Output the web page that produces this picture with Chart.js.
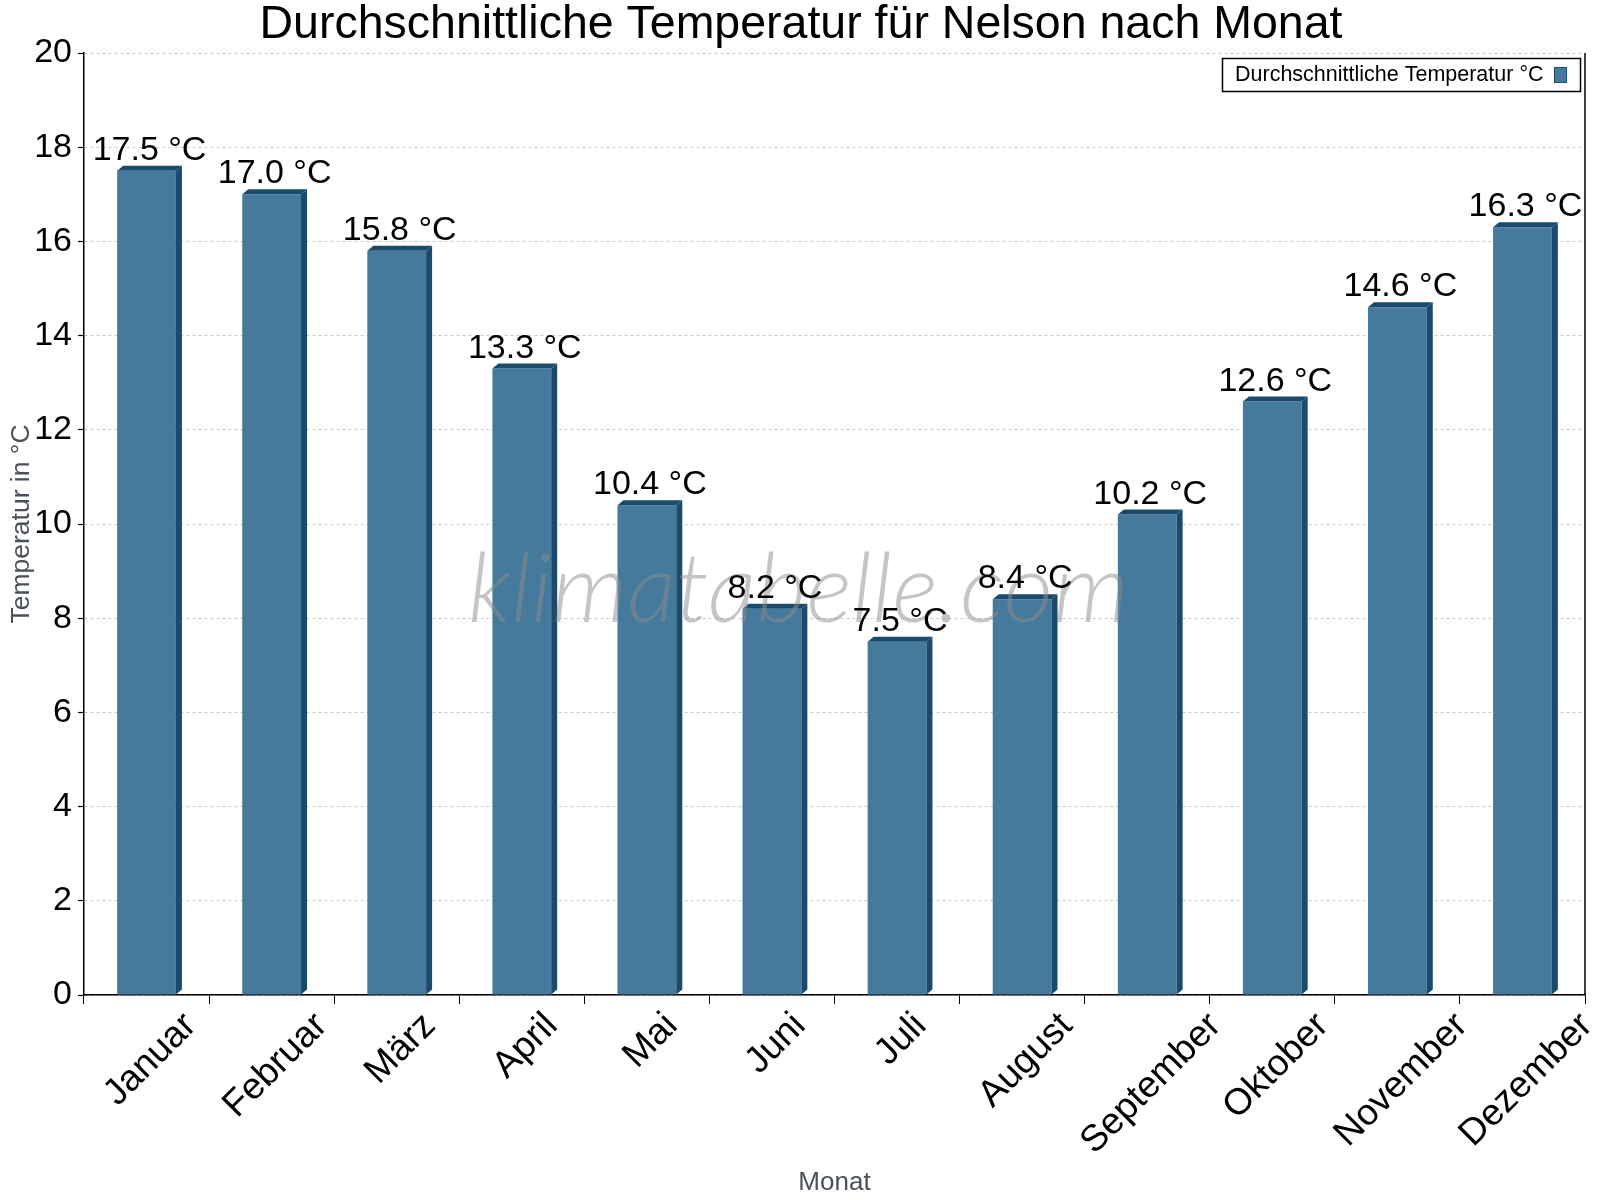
<!DOCTYPE html>
<html>
<head>
<meta charset="utf-8">
<script src="https://cdn.jsdelivr.net/npm/chart.js@4/dist/chart.umd.min.js"></script>
<style>
  html, body { margin: 0; padding: 0; background: #fff; }
  canvas { display: block; }
</style>
</head>
<body>
<canvas id="tempChart" width="1600" height="1200"></canvas>
<script>
const months = ['Januar', 'Februar', 'März', 'April', 'Mai', 'Juni', 'Juli', 'August', 'September', 'Oktober', 'November', 'Dezember'];
const avgTemps = [17.5, 17.0, 15.8, 13.3, 10.4, 8.2, 7.5, 8.4, 10.2, 12.6, 14.6, 16.3];
const yMin = 0;
const yMax = 20;
const yStep = 2;
const chartTitle = 'Durchschnittliche Temperatur für Nelson nach Monat';
const seriesLabel = 'Durchschnittliche Temperatur °C';
const yTitle = 'Temperatur in °C';
const xTitle = 'Monat';
const watermarkText = 'klimatabelle.com';

const FONT = "'Liberation Sans', Arial, sans-serif";
const barFront = '#467a9d';
const barDark = '#1a4b6d';
const depthX = 6;
const depthY = 5;

// draws the fake 3d bars, watermark, value labels, title, legend and x labels
const decorPlugin = {
  id: 'decor',
  afterDatasetsDraw(chart) {
    const ctx = chart.ctx;
    const meta = chart.getDatasetMeta(0);

    meta.data.forEach(bar => {
      const { x, y, width, base } = bar.getProps(['x', 'y', 'width', 'base'], true);
      const left = x - width / 2;
      const right = x + width / 2;
      ctx.save();
      ctx.fillStyle = barDark;
      // side
      ctx.beginPath();
      ctx.moveTo(right, y);
      ctx.lineTo(right + depthX, y - depthY);
      ctx.lineTo(right + depthX, base - depthY);
      ctx.lineTo(right, base);
      ctx.closePath();
      ctx.fill();
      // top
      ctx.beginPath();
      ctx.moveTo(left, y);
      ctx.lineTo(left + depthX, y - depthY);
      ctx.lineTo(right + depthX, y - depthY);
      ctx.lineTo(right, y);
      ctx.closePath();
      ctx.fill();
      ctx.restore();
    });

    // watermark
    const area = chart.chartArea;
    ctx.save();
    ctx.font = "italic 300 97px Lato, 'Open Sans', sans-serif";
    ctx.fillStyle = 'rgba(140,140,140,0.5)';
    ctx.textAlign = 'center';
    ctx.textBaseline = 'alphabetic';
    ctx.fillText(watermarkText, (area.left + area.right) / 2 - 36, 622);
    ctx.restore();

    // value labels
    ctx.save();
    ctx.font = '34px ' + FONT;
    ctx.fillStyle = '#000';
    ctx.textAlign = 'center';
    ctx.textBaseline = 'alphabetic';
    meta.data.forEach((bar, i) => {
      const { x, y } = bar.getProps(['x', 'y'], true);
      ctx.fillText(avgTemps[i].toFixed(1) + ' °C', x + 3, y - 11);
    });
    ctx.restore();
  },
  afterDraw(chart) {
    const ctx = chart.ctx;
    const area = chart.chartArea;

    // right frame line
    ctx.save();
    ctx.strokeStyle = '#000';
    ctx.lineWidth = 1.5;
    ctx.beginPath();
    ctx.moveTo(area.right, area.top);
    ctx.lineTo(area.right, area.bottom);
    ctx.stroke();
    ctx.restore();

    // title
    ctx.save();
    ctx.font = '46.5px ' + FONT;
    ctx.fillStyle = '#000';
    ctx.textAlign = 'center';
    ctx.textBaseline = 'alphabetic';
    ctx.fillText(chartTitle, 801, 38);
    ctx.restore();

    // legend
    ctx.save();
    ctx.fillStyle = '#fff';
    ctx.fillRect(1222, 58, 359, 34);
    ctx.strokeStyle = '#000';
    ctx.lineWidth = 1.5;
    ctx.strokeRect(1222.5, 58.5, 358, 33);
    ctx.font = '21.5px ' + FONT;
    ctx.fillStyle = '#000';
    ctx.textAlign = 'left';
    ctx.textBaseline = 'middle';
    ctx.fillText(chart.data.datasets[0].label, 1235, 75.5);
    ctx.fillStyle = barFront;
    ctx.fillRect(1554, 67, 13, 16);
    ctx.strokeStyle = barDark;
    ctx.lineWidth = 1;
    ctx.strokeRect(1554.5, 67.5, 12, 15);
    ctx.restore();

    // rotated month labels, rotated around their centre
    const xs = chart.scales.x;
    ctx.save();
    ctx.font = '37px ' + FONT;
    ctx.fillStyle = '#000';
    ctx.textAlign = 'center';
    ctx.textBaseline = 'middle';
    months.forEach((m, i) => {
      const px = xs.getPixelForValue(i);
      const w = ctx.measureText(m).width;
      const cy = xs.top + 15 + (w + 28) * 0.3536;
      ctx.save();
      ctx.translate(px + 4, cy);
      ctx.rotate(-Math.PI / 4);
      ctx.fillText(m, 0, 0);
      ctx.restore();
    });
    ctx.restore();
  }
};

new Chart(document.getElementById('tempChart'), {
  type: 'bar',
  data: {
    labels: months,
    datasets: [{
      label: seriesLabel,
      data: avgTemps,
      backgroundColor: barFront,
      borderWidth: 0,
      barPercentage: 0.47,
      categoryPercentage: 1
    }]
  },
  options: {
    responsive: false,
    animation: false,
    devicePixelRatio: 1,
    layout: { padding: { top: 53, right: 15, left: 0, bottom: 0 } },
    plugins: {
      legend: { display: false },
      tooltip: { enabled: false },
      title: { display: false }
    },
    scales: {
      x: {
        afterFit: scale => { scale.height = 205; },
        ticks: { display: false },
        grid: {
          drawOnChartArea: false,
          drawTicks: true,
          tickLength: 9,
          tickColor: '#000',
          tickWidth: 1
        },
        border: { color: '#000', width: 1.5 },
        title: {
          display: true,
          text: xTitle,
          color: '#4a5059',
          font: { family: FONT, size: 26 },
          padding: { top: 0, bottom: 2 }
        }
      },
      y: {
        min: yMin,
        max: yMax,
        afterFit: scale => { scale.width = 84; },
        ticks: {
          stepSize: yStep,
          color: '#000',
          padding: 6,
          font: { family: FONT, size: 34 }
        },
        grid: {
          color: '#c8c8c8',
          lineWidth: 1,
          tickColor: '#000',
          tickLength: 6,
          tickWidth: 1.2
        },
        border: { color: '#000', width: 1.5, dash: [3, 3] },
        title: {
          display: true,
          text: yTitle,
          color: '#4a5059',
          font: { family: FONT, size: 26.5 },
          padding: { top: 6, bottom: 0 }
        }
      }
    }
  },
  plugins: [decorPlugin]
});
</script>
</body>
</html>
